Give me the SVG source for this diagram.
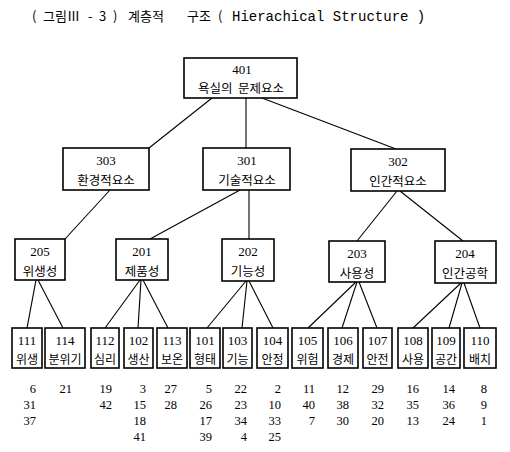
<svg xmlns="http://www.w3.org/2000/svg" width="510" height="452" viewBox="0 0 510 452">
<style>
.box{fill:#fff;stroke:#000;stroke-width:1.6}
.ln{stroke:#000;stroke-width:1.1;fill:none}
.num{font-family:"Liberation Serif",serif;font-size:13px;text-anchor:middle;fill:#000}
.kr{font-family:"Noto Sans CJK KR",sans-serif;font-size:12.5px;text-anchor:middle;fill:#000}
.krs{font-family:"Noto Sans CJK KR",sans-serif;font-size:12px;text-anchor:middle;fill:#000}
.col{font-family:"Liberation Serif",serif;font-size:12.5px;text-anchor:end;fill:#000}
.tk{font-family:"Noto Sans CJK KR",sans-serif;font-size:13px;fill:#000}
.te{font-family:"Liberation Mono",monospace;font-size:14px;fill:#000}
</style>
<rect width="510" height="452" fill="#fff"/>
<g id="title">
<text class="tk" y="21"><tspan x="32">(</tspan><tspan x="43">그림Ⅲ</tspan><tspan x="88">-</tspan><tspan x="99">3</tspan><tspan x="113">)</tspan><tspan x="128">계층적</tspan><tspan x="187">구조</tspan><tspan x="218">(</tspan></text>
<text class="te" x="232" y="21">Hierachical Structure )</text>
</g>
<g id="connectors">
<line class="ln" x1="212" y1="98" x2="149" y2="148"/>
<line class="ln" x1="246" y1="98" x2="246" y2="148"/>
<line class="ln" x1="262" y1="98" x2="396" y2="149"/>
<line class="ln" x1="110" y1="190" x2="65" y2="239"/>
<line class="ln" x1="240" y1="190" x2="150" y2="239"/>
<line class="ln" x1="249" y1="190" x2="249" y2="239"/>
<line class="ln" x1="397" y1="191" x2="357" y2="241"/>
<line class="ln" x1="400" y1="191" x2="463" y2="241"/>
<line class="ln" x1="36" y1="280" x2="27" y2="328"/>
<line class="ln" x1="38" y1="280" x2="63" y2="328"/>
<line class="ln" x1="140" y1="280" x2="105" y2="328"/>
<line class="ln" x1="141" y1="280" x2="138" y2="328"/>
<line class="ln" x1="143" y1="280" x2="168" y2="328"/>
<line class="ln" x1="246" y1="281" x2="207" y2="328"/>
<line class="ln" x1="247" y1="281" x2="242" y2="328"/>
<line class="ln" x1="249" y1="281" x2="273" y2="328"/>
<line class="ln" x1="356" y1="282" x2="308" y2="328"/>
<line class="ln" x1="357" y1="282" x2="342" y2="328"/>
<line class="ln" x1="359" y1="282" x2="377" y2="328"/>
<line class="ln" x1="461" y1="283" x2="413" y2="328"/>
<line class="ln" x1="462" y1="283" x2="449" y2="328"/>
<line class="ln" x1="464" y1="283" x2="480" y2="328"/>
</g>
<g id="n401"><rect class="box" x="184" y="58" width="113" height="40"/><text class="num" x="242" y="74">401</text><text class="kr" x="241" y="93">욕실의&#160;&#160;문제요소</text></g>
<g id="n303"><rect class="box" x="63" y="148" width="86" height="42"/><text class="num" x="106" y="165">303</text><text class="kr" x="106" y="185">환경적요소</text></g>
<g id="n301"><rect class="box" x="203" y="148" width="87" height="42"/><text class="num" x="247" y="165">301</text><text class="kr" x="247" y="185">기술적요소</text></g>
<g id="n302"><rect class="box" x="351" y="149" width="94" height="42"/><text class="num" x="398" y="166">302</text><text class="kr" x="398" y="186">인간적요소</text></g>
<g id="n205"><rect class="box" x="15" y="239" width="50" height="41"/><text class="num" x="40" y="256">205</text><text class="kr" x="40" y="276">위생성</text></g>
<g id="n201"><rect class="box" x="116" y="239" width="52" height="41"/><text class="num" x="142" y="256">201</text><text class="kr" x="142" y="276">제품성</text></g>
<g id="n202"><rect class="box" x="222" y="239" width="52" height="42"/><text class="num" x="248" y="256">202</text><text class="kr" x="248" y="276">기능성</text></g>
<g id="n203"><rect class="box" x="329" y="241" width="56" height="41"/><text class="num" x="357" y="258">203</text><text class="kr" x="357" y="278">사용성</text></g>
<g id="n204"><rect class="box" x="435" y="241" width="61" height="42"/><text class="num" x="465" y="258">204</text><text class="kr" x="465" y="278">인간공학</text></g>
<g id="n111"><rect class="box" x="12" y="328" width="30" height="40"/><text class="num" x="27" y="345">111</text><text class="krs" x="27" y="364">위생</text></g>
<g id="n114"><rect class="box" x="45" y="328" width="40" height="40"/><text class="num" x="65" y="345">114</text><text class="krs" x="65" y="364">분위기</text></g>
<g id="n112"><rect class="box" x="91" y="328" width="28" height="40"/><text class="num" x="105" y="345">112</text><text class="krs" x="105" y="364">심리</text></g>
<g id="n102"><rect class="box" x="124" y="328" width="29" height="40"/><text class="num" x="138.5" y="345">102</text><text class="krs" x="138.5" y="364">생산</text></g>
<g id="n113"><rect class="box" x="157" y="328" width="30" height="40"/><text class="num" x="172" y="345">113</text><text class="krs" x="172" y="364">보온</text></g>
<g id="n101"><rect class="box" x="190" y="328" width="30" height="40"/><text class="num" x="205" y="345">101</text><text class="krs" x="205" y="364">형태</text></g>
<g id="n103"><rect class="box" x="223" y="328" width="29" height="40"/><text class="num" x="237.5" y="345">103</text><text class="krs" x="237.5" y="364">기능</text></g>
<g id="n104"><rect class="box" x="257" y="328" width="31" height="40"/><text class="num" x="272.5" y="345">104</text><text class="krs" x="272.5" y="364">안정</text></g>
<g id="n105"><rect class="box" x="292" y="328" width="31" height="40"/><text class="num" x="307.5" y="345">105</text><text class="krs" x="307.5" y="364">위험</text></g>
<g id="n106"><rect class="box" x="328" y="328" width="30" height="40"/><text class="num" x="343" y="345">106</text><text class="krs" x="343" y="364">경제</text></g>
<g id="n107"><rect class="box" x="363" y="328" width="29" height="40"/><text class="num" x="377.5" y="345">107</text><text class="krs" x="377.5" y="364">안전</text></g>
<g id="n108"><rect class="box" x="398" y="328" width="30" height="40"/><text class="num" x="413" y="345">108</text><text class="krs" x="413" y="364">사용</text></g>
<g id="n109"><rect class="box" x="432" y="328" width="28" height="40"/><text class="num" x="446" y="345">109</text><text class="krs" x="446" y="364">공간</text></g>
<g id="n110"><rect class="box" x="464" y="328" width="32" height="40"/><text class="num" x="480" y="345">110</text><text class="krs" x="480" y="364">배치</text></g>
<g id="numbers">
<text class="col" x="36" y="393">6</text><text class="col" x="36" y="409">31</text><text class="col" x="36" y="425">37</text>
<text class="col" x="72" y="393">21</text>
<text class="col" x="112" y="393">19</text><text class="col" x="112" y="409">42</text>
<text class="col" x="146" y="393">3</text><text class="col" x="146" y="409">15</text><text class="col" x="146" y="425">18</text><text class="col" x="146" y="441">41</text>
<text class="col" x="177" y="393">27</text><text class="col" x="177" y="409">28</text>
<text class="col" x="212" y="393">5</text><text class="col" x="212" y="409">26</text><text class="col" x="212" y="425">17</text><text class="col" x="212" y="441">39</text>
<text class="col" x="247" y="393">22</text><text class="col" x="247" y="409">23</text><text class="col" x="247" y="425">34</text><text class="col" x="247" y="441">4</text>
<text class="col" x="281" y="393">2</text><text class="col" x="281" y="409">10</text><text class="col" x="281" y="425">33</text><text class="col" x="281" y="441">25</text>
<text class="col" x="315" y="393">11</text><text class="col" x="315" y="409">40</text><text class="col" x="315" y="425">7</text>
<text class="col" x="349" y="393">12</text><text class="col" x="349" y="409">38</text><text class="col" x="349" y="425">30</text>
<text class="col" x="384" y="393">29</text><text class="col" x="384" y="409">32</text><text class="col" x="384" y="425">20</text>
<text class="col" x="419" y="393">16</text><text class="col" x="419" y="409">35</text><text class="col" x="419" y="425">13</text>
<text class="col" x="455" y="393">14</text><text class="col" x="455" y="409">36</text><text class="col" x="455" y="425">24</text>
<text class="col" x="487" y="393">8</text><text class="col" x="487" y="409">9</text><text class="col" x="487" y="425">1</text>
</g>
</svg>
